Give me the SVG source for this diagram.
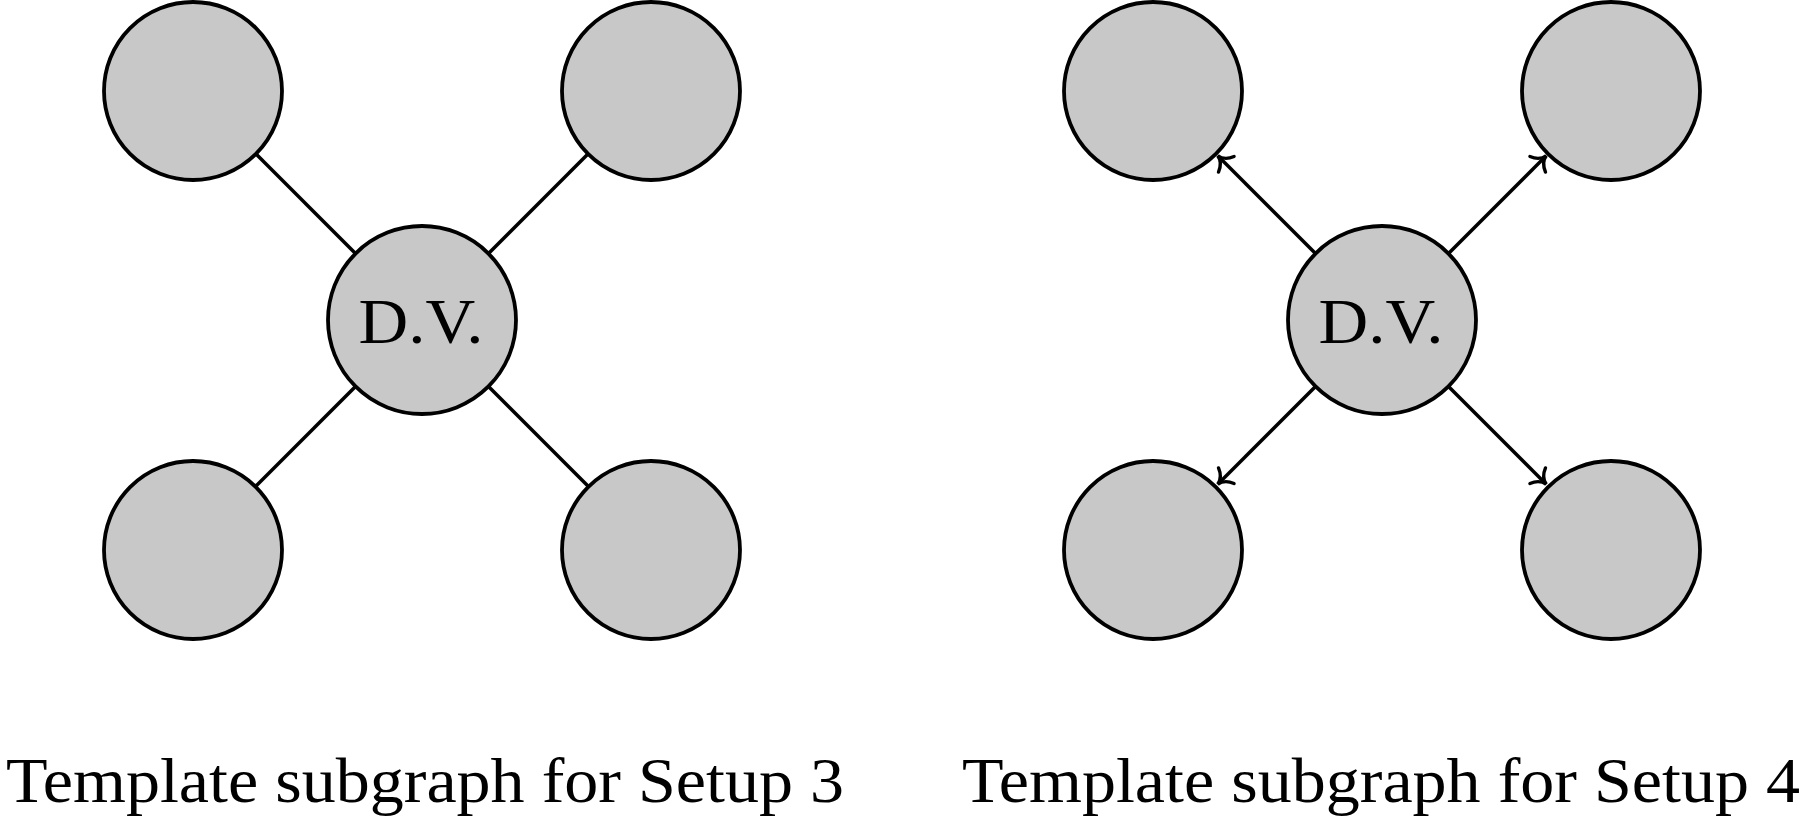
<svg xmlns="http://www.w3.org/2000/svg" width="1800" height="816" viewBox="0 0 1800 816">
<style>
.node{fill:#c8c8c8;stroke:#000;stroke-width:3.8}
.edge{stroke:#000;stroke-width:3.5;fill:none}
.lbl{font-family:"Liberation Serif","DejaVu Serif",serif;font-size:63px;fill:#000}
</style>
<defs>
<marker id="to" markerUnits="userSpaceOnUse" viewBox="-16 -14 18 28" refX="0" refY="0" markerWidth="18" markerHeight="28" orient="auto" overflow="visible">
<path d="M -12,-11 C -9,-3.5 -3.5,-0.6 0,0 C -3.5,0.6 -9,3.5 -12,11" fill="none" stroke="#000" stroke-width="3.4" stroke-linecap="round"/>
</marker>
</defs>
<rect width="1800" height="816" fill="#fff"/>
<g id="edges">
<line class="edge" x1="355.5" y1="253.5" x2="256.3" y2="154.3"/>
<line class="edge" x1="488.5" y1="253.5" x2="587.7" y2="154.3"/>
<line class="edge" x1="355.5" y1="386.5" x2="256.3" y2="485.7"/>
<line class="edge" x1="488.5" y1="386.5" x2="587.7" y2="485.7"/>
<line class="edge" x1="1315.5" y1="253.5" x2="1217.8" y2="155.8" marker-end="url(#to)"/>
<line class="edge" x1="1448.5" y1="253.5" x2="1546.2" y2="155.8" marker-end="url(#to)"/>
<line class="edge" x1="1315.5" y1="386.5" x2="1217.8" y2="484.2" marker-end="url(#to)"/>
<line class="edge" x1="1448.5" y1="386.5" x2="1546.2" y2="484.2" marker-end="url(#to)"/>
</g>
<g id="n3_tl"><circle class="node" cx="193" cy="91" r="89"/></g>
<g id="n3_tr"><circle class="node" cx="651" cy="91" r="89"/></g>
<g id="n3_bl"><circle class="node" cx="193" cy="550" r="89"/></g>
<g id="n3_br"><circle class="node" cx="651" cy="550" r="89"/></g>
<g id="n3_dv"><circle class="node" cx="422" cy="320" r="94"/><text class="lbl" x="421" y="343" text-anchor="middle" textLength="125" lengthAdjust="spacingAndGlyphs">D.V.</text></g>
<g id="n4_tl"><circle class="node" cx="1153" cy="91" r="89"/></g>
<g id="n4_tr"><circle class="node" cx="1611" cy="91" r="89"/></g>
<g id="n4_bl"><circle class="node" cx="1153" cy="550" r="89"/></g>
<g id="n4_br"><circle class="node" cx="1611" cy="550" r="89"/></g>
<g id="n4_dv"><circle class="node" cx="1382" cy="320" r="94"/><text class="lbl" x="1381" y="343" text-anchor="middle" textLength="125" lengthAdjust="spacingAndGlyphs">D.V.</text></g>
<g id="captions">
<text class="lbl" x="425" y="802" text-anchor="middle" textLength="838" lengthAdjust="spacingAndGlyphs">Template subgraph for Setup 3</text>
<text class="lbl" x="1381" y="802" text-anchor="middle" textLength="838" lengthAdjust="spacingAndGlyphs">Template subgraph for Setup 4</text>
</g>
</svg>
